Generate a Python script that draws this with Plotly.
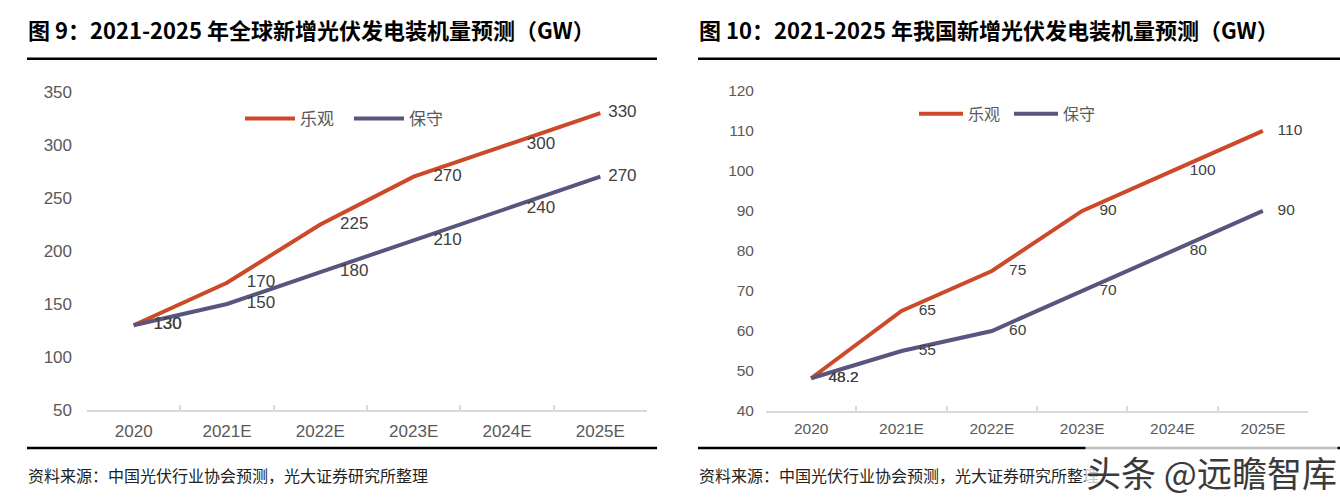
import plotly.graph_objects as go

# ---------------- data ----------------
categories = ["2020", "2021E", "2022E", "2023E", "2024E", "2025E"]
global_optimistic = [130, 170, 225, 270, 300, 330]
global_conservative = [130, 150, 180, 210, 240, 270]
china_optimistic = [48.2, 65, 75, 90, 100, 110]
china_conservative = [48.2, 55, 60, 70, 80, 90]
series_names = ["乐观", "保守"]
left_yticks = [50, 100, 150, 200, 250, 300, 350]
right_yticks = [40, 50, 60, 70, 80, 90, 100, 110, 120]
titles = ["图 9：2021-2025 年全球新增光伏发电装机量预测（GW）",
          "图 10：2021-2025 年我国新增光伏发电装机量预测（GW）"]
source_text = "资料来源：中国光伏行业协会预测，光大证券研究所整理"
watermark = "头条 @远瞻智库"

# ---------------- style ----------------
W, H = 1340, 500
ORANGE = "#CC4A2A"
PURPLE = "#59557F"
AXIS_GRAY = "#D9D9D9"
TICK_COLOR = "#595959"
LABEL_COLOR = "#404040"
CJK = "Noto Sans CJK SC"
LATIN = "Liberation Sans, Arial, sans-serif"


def px_x(x):
    return x / W


def px_y(y):
    # target screen y (px from top) -> paper fraction, compensating the
    # vertical placement observed in the rendered page
    yi = (y - 8.2) / 0.9614
    return 1 - yi / H


def fmt(v):
    return f"{v:g}"


fig = go.Figure()

panels = [
    dict(xa="x", ya="y", legend="legend", data=[global_optimistic, global_conservative],
         fs=17, msize=[30, 30, 30, 30, 30, 11]),
    dict(xa="x2", ya="y2", legend="legend2", data=[china_optimistic, china_conservative],
         fs=15.5, msize=[26, 26, 26, 26, 26, 22]),
]
colors = [ORANGE, PURPLE]

for p in panels:
    for name, vals, col in zip(series_names, p["data"], colors):
        fig.add_trace(go.Scatter(
            x=categories, y=vals, name=name, mode="lines",
            line=dict(color=col, width=4),
            xaxis=p["xa"], yaxis=p["ya"], legend=p["legend"],
            hoverinfo="skip",
        ))
        fig.add_trace(go.Scatter(
            x=categories, y=vals, name=name, mode="markers+text",
            marker=dict(size=p["msize"], opacity=0, color=col),
            text=[fmt(v) for v in vals],
            textposition="middle right",
            textfont=dict(family=LATIN, size=p["fs"], color=LABEL_COLOR),
            cliponaxis=False, showlegend=False,
            xaxis=p["xa"], yaxis=p["ya"],
            hoverinfo="skip",
        ))

xaxis_common = dict(
    type="category", showline=True, linecolor=AXIS_GRAY, linewidth=1.5,
    ticks="inside", ticklen=5, tickcolor=AXIS_GRAY, tickwidth=1.5,
    tickson="boundaries", showgrid=False, zeroline=False,
    range=[-0.5, 5.5],
)
yaxis_common = dict(showline=False, showgrid=False, zeroline=False, ticks="")

fig.update_layout(
    width=W, height=H,
    margin=dict(l=0, r=0, t=0, b=0),
    paper_bgcolor="white", plot_bgcolor="white",
    xaxis=dict(xaxis_common, domain=[px_x(87), px_x(647)], anchor="y",
               tickfont=dict(family=LATIN, size=17, color=TICK_COLOR),
               ticklabelstandoff=5),
    yaxis=dict(yaxis_common, domain=[px_y(409), px_y(91)], anchor="x",
               range=[50, 350], tickvals=left_yticks,
               tickfont=dict(family=LATIN, size=17, color=TICK_COLOR),
               ticklabelstandoff=14),
    xaxis2=dict(xaxis_common, domain=[px_x(766), px_x(1308)], anchor="y2",
                tickfont=dict(family=LATIN, size=15.5, color=TICK_COLOR),
                ticklabelstandoff=3),
    yaxis2=dict(yaxis_common, domain=[px_y(410), px_y(90)], anchor="x2",
                range=[40, 120], tickvals=right_yticks,
                tickfont=dict(family=LATIN, size=15.5, color=TICK_COLOR),
                ticklabelstandoff=11),
    legend=dict(orientation="h", x=px_x(240), y=px_y(118), xanchor="left", yanchor="middle",
                font=dict(family=CJK, size=17, color=TICK_COLOR),
                bgcolor="rgba(0,0,0,0)", entrywidth=44, entrywidthmode="pixels",
                itemwidth=50),
    legend2=dict(orientation="h", x=px_x(914), y=px_y(113), xanchor="left", yanchor="middle",
                 font=dict(family=CJK, size=16, color=TICK_COLOR),
                 bgcolor="rgba(0,0,0,0)", entrywidth=36, entrywidthmode="pixels",
                 itemwidth=44),
    showlegend=True,
)

# titles, rules, footers
for title, x0, x1 in [(titles[0], 27, 657), (titles[1], 698, 1340)]:
    fig.add_annotation(text=f"<b>{title}</b>", xref="paper", yref="paper",
                       x=px_x(x0 - 1), y=px_y(28), xanchor="left", yanchor="middle",
                       showarrow=False, font=dict(family=CJK, size=22, color="#000000"))
    for yy in (58, 447):
        fig.add_shape(type="line", xref="paper", yref="paper",
                      x0=px_x(x0), x1=px_x(x1), y0=px_y(yy), y1=px_y(yy),
                      line=dict(color="#000000", width=2.5))
    fig.add_annotation(text=source_text, xref="paper", yref="paper",
                       x=px_x(x0 - 1), y=px_y(474), xanchor="left", yanchor="middle",
                       showarrow=False, font=dict(family=CJK, size=16, color="#222222"))

fig.add_annotation(text=watermark, xref="paper", yref="paper",
                   x=px_x(1338), y=px_y(470), xanchor="right", yanchor="middle",
                   showarrow=False, bgcolor="rgba(255,255,255,0.75)", borderpad=0,
                   font=dict(family=CJK, size=35, color="#3a3a3a"))

fig.write_html("out.html")
